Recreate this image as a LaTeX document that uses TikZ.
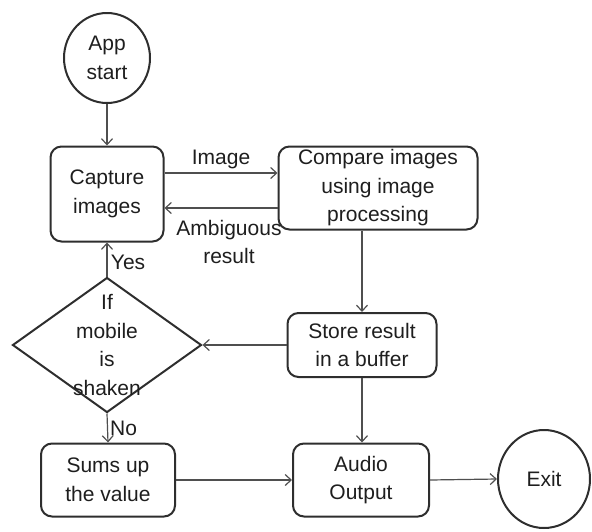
\documentclass[tikz,border=0pt]{standalone}
\usepackage{fontspec}
\setmainfont{Liberation Sans}
\usetikzlibrary{arrows.meta, shapes.geometric, positioning, calc}
\definecolor{edgegray}{HTML}{2E2E2E}
\definecolor{linegray}{HTML}{4F4F4F}
\definecolor{inkgray}{HTML}{1E1E1E}
\tikzset{
  flowfont/.style={font=\fontsize{21}{28.5}\selectfont, text=inkgray},
  procbox/.style={
    rectangle, draw=edgegray, line width=2pt, rounded corners=11pt,
    inner sep=0pt, align=center, flowfont
  },
  termnode/.style={ellipse, draw=edgegray, line width=2pt, inner sep=0pt, align=center, flowfont},
  decision/.style={diamond, draw=edgegray, line width=2pt, inner sep=0pt,
    minimum width=189pt, minimum height=135pt},
  flow/.style={-{Straight Barb[length=6pt,width=11pt]}, line width=1.2pt, draw=linegray},
  lbl/.style={align=center, flowfont}
}

\begin{document}
\begin{tikzpicture}[x=1pt, y=-1pt]
    \useasboundingbox (0,0) rectangle (592,531);
    \node[termnode, minimum width=86pt, minimum height=90pt] (start) at (107,58) {App\\start};
    \node[procbox, minimum width=113pt, minimum height=95pt] (capture) at (107,194) {Capture\\images};
    \node[procbox, minimum width=199pt, minimum height=83pt] (compare) at (378,188) {Compare images\\using image\\processing};
    \node[procbox, minimum width=149pt, minimum height=64pt] (store) at (362,345) {Store result\\in a buffer};
    \node[decision] (shake) at (107,345) {};
    \node[lbl] (shaketxt) at (shake.center) {If\\mobile\\is\\shaken};
    \node[procbox, minimum width=134pt, minimum height=73pt] (sums) at (108,480) {Sums up\\the value};
    \node[procbox, minimum width=136pt, minimum height=73pt] (audio) at (361,480) {Audio\\Output};
    \node[termnode, minimum width=92pt, minimum height=98pt] (exit) at (544,479) {Exit};
    \draw[flow] (start.south) -- (capture.north);
    \draw[flow] ([yshift=21pt]capture.east) -- node[lbl, above] {Image} ([yshift=21pt]capture.east -| compare.west);
    \draw[flow] ([yshift=-20pt]compare.west) -- node[lbl, below, xshift=8pt, yshift=-8pt] {Ambiguous\\result} ([yshift=-20pt]compare.west -| capture.east);
    \draw[flow] (store.north |- compare.south) -- (store.north);
    \draw[flow] (store.west) -- (shake.east);
    \draw[flow] (shake.north) -- node[lbl, right, yshift=-3pt] {Yes} (capture.south);
    \draw[flow] (shake.south) -- node[lbl, right, inner sep=2pt] {No} (sums.north);
    \draw[flow] (sums.east) -- (audio.west);
    \draw[flow] (store.south) -- (store.south |- audio.north);
    \draw[flow] (audio.east) -- (exit.west);
\end{tikzpicture}
\end{document}
